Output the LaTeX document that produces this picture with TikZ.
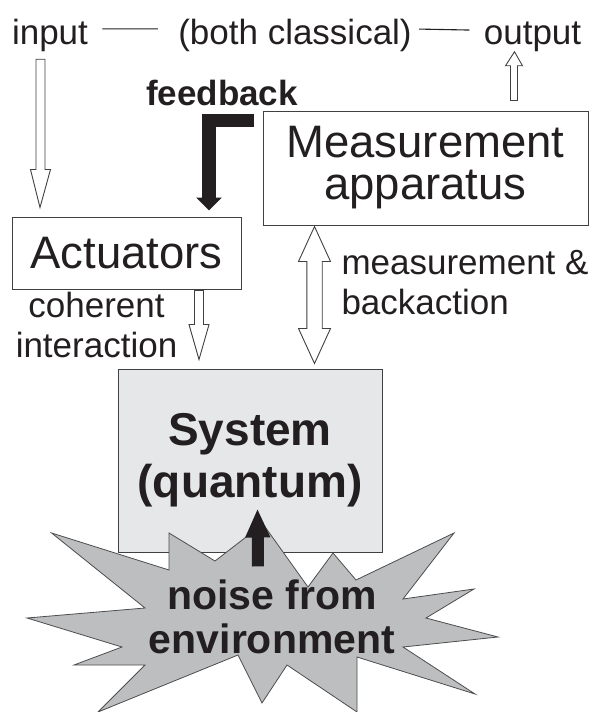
\documentclass[tikz,border=0pt]{standalone}
\usepackage{fontspec}
\setmainfont{Liberation Sans}
\usetikzlibrary{arrows.meta,positioning,calc}
\definecolor{ink}{HTML}{231F20}
\definecolor{boxline}{HTML}{404040}
\definecolor{sysfill}{HTML}{E6E7E8}
\definecolor{starfill}{HTML}{BCBEC0}
\definecolor{starline}{HTML}{4D4D4D}
\tikzset{every picture/.style={line width=1pt}}
% hollow block arrows: tail, tip, half shaft, half head, head length
\newcommand{\hollowarrow}[5]{%
  \draw[hollow] let \p1=(#1), \p2=(#2), \p3=($(#2)!#5!(#1)$) in
    (\x1-#3,\y1) -- (\x1-#3,\y3) -- (\x1-#4,\y3) -- (\p2) -- (\x1+#4,\y3)
    -- (\x1+#3,\y3) -- (\x1+#3,\y1) -- cycle;}
\newcommand{\hollowdouble}[5]{%
  \draw[hollow] let \p1=(#1), \p2=(#2), \p3=($(#1)!#5!(#2)$), \p4=($(#2)!#5!(#1)$) in
    (\p1) -- (\x1+#4,\y3) -- (\x1+#3,\y3) -- (\x1+#3,\y4) -- (\x1+#4,\y4) -- (\p2)
    -- (\x1-#4,\y4) -- (\x1-#3,\y4) -- (\x1-#3,\y3) -- (\x1-#4,\y3) -- cycle;}

\begin{document}
\begin{tikzpicture}[x=1pt,y=-1pt,
    box/.style={draw=boxline, inner sep=0pt, align=center, text=ink},
    lbl/.style={inner sep=0pt, text=ink},
    small/.style={font=\fontsize{35}{40}\selectfont},
    big/.style={font=\fontsize{45.5}{42}\selectfont},
    hollow/.style={draw=boxline, fill=white, line width=0.9pt},
    fat/.style={draw=ink, line width=#1},
    ruleline/.style={draw=ink, line width=1.1pt}]
  \useasboundingbox (0,0) rectangle (594,712);

  % classical side
  \node[lbl, small, anchor=base] (input) at (50,44) {input};
  \node[lbl, small, anchor=base] (both) at (295,44) {(both classical)};
  \node[lbl, small, anchor=base] (output) at (532.5,44) {output};
  \draw[ruleline, shorten <=14pt, shorten >=20pt] ([yshift=6pt]input.east) -- ([yshift=6pt]both.west);
  \draw[ruleline, shorten <=7pt, shorten >=14pt] ([yshift=6pt]both.east) -- ([yshift=6pt]output.west);

  \node[box, big, minimum width=325pt, minimum height=114pt] (meas) at (425.5,168) {Measurement\\apparatus};
  \node[box, big, minimum width=229pt, minimum height=72pt] (act) at (126.5,253) {Actuators};
  \node[box, font=\bfseries\fontsize{46}{52}\selectfont, fill=sysfill, minimum width=264pt, minimum height=183pt] (sys) at (250,460.5) {System\\(quantum)};

  \node[lbl, font=\bfseries\fontsize{35}{40}\selectfont, anchor=base] (fb) at (222,105) {feedback};
  \node[lbl, small, align=center] (coh) at (96.5,325) {coherent\\interaction};
  \node[lbl, small, align=left, anchor=north west] (mb) at (341,249.5) {measurement \&\\backaction};

  % environment
  \draw[draw=starline, fill=starfill, line width=0.8pt] (51.6,533) -- (169,570) -- (169,533) -- (215,561)
    -- (263,524) -- (308,587) -- (333,553) -- (356,580) -- (454,533) -- (403,599) -- (474,589)
    -- (426,618) -- (498,637) -- (403,647) -- (475,694) -- (357,657) -- (357,712) -- (287,665)
    -- (262,703) -- (238,655) -- (98,712) -- (145,665) -- (74,665) -- (122,647) -- (27,618)
    -- (145,608) -- cycle;
  \node[lbl, font=\bfseries\fontsize{41}{44}\selectfont, align=center] (noise) at (272,617) {noise from\\environment};

  % arrows
  \coordinate (inTop) at ($(input.south)+(-9.5,7.5)$);
  \coordinate (inTip) at ($(act.north west)+(28.5,-9)$);
  \coordinate (outTop) at ($(output.south)+(-18,0)$);
  \coordinate (outFoot) at ($(meas.north west)+(251.5,-10)$);
  \coordinate (cohTop) at ($(act.south west)+(187.5,1)$);
  \coordinate (cohTip) at ($(sys.north west)+(81.5,-9)$);
  \coordinate (mbTop) at ($(meas.south west)+(52,1)$);
  \coordinate (mbBot) at ($(sys.north west)+(197,-5)$);
  \coordinate (noiseFoot) at ($(noise.north)+(-14,-13)$);
  \coordinate (noiseTip) at ($(sys.south west)+(140,-44)$);

  \hollowarrow{inTop}{inTip}{4.5pt}{10pt}{38pt}
  \hollowarrow{outFoot}{outTop}{3.5pt}{8.5pt}{14pt}
  \hollowarrow{cohTop}{cohTip}{4.5pt}{10pt}{35pt}
  \hollowdouble{mbTop}{mbBot}{7.7pt}{16pt}{35pt}

  \draw[fat=13.5pt, -{Triangle[length=13pt,width=25pt]}] ($(meas.north west)+(-9,10)$) -| ($(act.north east)+(-32.5,-6)$);
  \draw[fat=12pt, -{Triangle[length=29pt,width=23pt]}] (noiseFoot) -- (noiseTip);
\end{tikzpicture}
\end{document}
